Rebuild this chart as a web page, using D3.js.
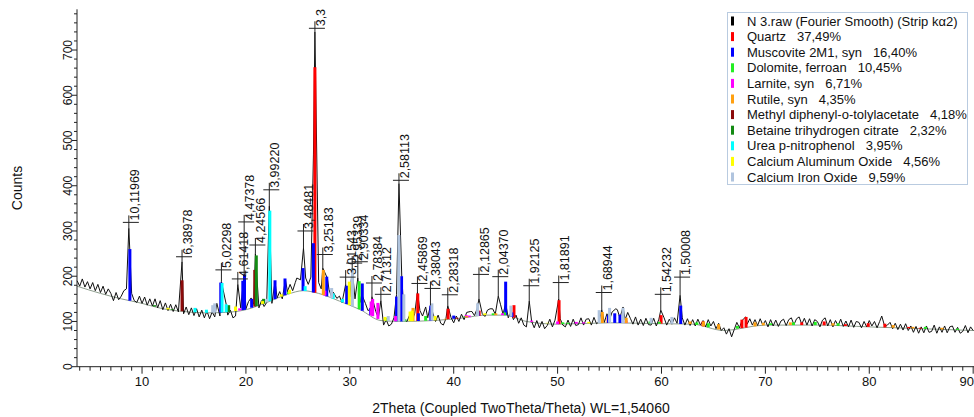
<!DOCTYPE html>
<html>
<head>
<meta charset="utf-8">
<script src="https://cdn.jsdelivr.net/npm/d3@7"></script>
<style>
  body { margin: 0; background: #fff; }
  svg { display: block; font-family: "Liberation Sans", Arial, sans-serif; }
</style>
</head>
<body>
<svg id="chart" width="974" height="417"></svg>
<script>
// measured scan, 2theta from 3.75 in steps of 0.25
const scanStart = 3.75;
const scanStep = 0.25;
const scanCounts = [190,
  178,194,176,188, 172,186,168,182, 164,178,160,172, 162,146,164,148, 156,168,172,172,
  162,146,142,156, 140,154,136,150, 134,150,130,146, 126,141,124,138, 122,137,121,134,
  117,132,115,130, 113,128,110,125, 108,123,106,121, 110,126,112,129, 130,114,125,108,
  112,124,130,120, 128,144,132,138, 145,130,146,133, 142,156,140,157, 152,166,150,170,
  166,182,168,186, 176,192,178,196, 182,198,180,194, 186,172,188,166, 170,154,168,151,
  156,142,158,145, 154,138,150,136, 142,126,140,124, 128,116,122,108, 108,92,104,90,
  94,108,112,118, 130,104,100,114, 102,118,106,124, 112,128,108,131, 118,100,114,96,
  92,106,90,108, 97,112,100,116, 104,120,106,122, 113,128,130,117, 111,125,109,128,
  116,132,138,116, 128,108,120,104, 114,96,108,92, 88,82,100,86, 102,86,100,84,
  91,105,88,103, 90,106,92,88, 103,89,105,91, 93,108,92,105, 106,92,109,95,
  100,114,98,117, 104,121,106,126, 108,130,104,120, 107,94,110,92, 105,91,107,93,
  92,107,90,105, 94,108,92,105, 94,108,96,114, 108,92,106,91, 104,90,105,92,
  102,88,104,90, 100,84,96,80, 86,72,84,66, 82,98,86,102, 106,94,106,92,
  104,91,106,92, 102,88,104,90, 103,89,101,105, 91,104,108,93, 106,110,94,107,
  92,106,90,104, 100,88,103,108, 90,104,88,102, 91,105,89,101, 88,103,87,100,
  98,86,100,88, 102,90,100,86, 100,110,88,92, 98,84,96,82, 94,81,95,80,
  90,76,89,74, 88,75,90,76, 78,92,74,88, 76,90,75,88, 90,76,87,74,
  78,91,75,88, 80];

// labelled peaks
const peakPos   = [8.73, 13.85, 17.64, 19.22, 19.83, 20.91, 22.25, 25.54, 26.64, 27.40, 29.60, 30.23, 30.77,
                   32.13, 32.99, 34.73, 36.51, 37.76, 39.43, 42.43, 44.29, 47.27, 50.11, 54.25, 59.93, 61.79];
const peakTop   = [306, 232, 188, 182, 205, 250, 355, 262, 740, 218, 182, 216, 196,
                   155, 146, 405, 165, 136, 135, 150, 156, 145, 150, 126, 125, 158];
const labelLevel = [319, 243, 214, 194, 320, 269, 391, 300, 748, 248, 198, 229, 232,
                   185, 160, 412, 184, 173, 159, 204, 199, 179, 186, 164, 160, 198];
const peakText  = ['10,11969', '6,38978', '5,02298', '4,61418', '4,47378', '4,24566', '3,99220', '3,48481', '3,3',
                   '3,25183', '3,01543', '2,95339', '2,90334', '2,78384', '2,71312', '2,58113', '2,45869', '2,38043',
                   '2,28318', '2,12865', '2,04370', '1,92125', '1,81891', '1,68944', '1,54232', '1,50008'];

// unlabelled small reflections in the scan
const minorPeaks = [[17.2, 140], [18.1, 138], [20.5, 152], [22.8, 188], [23.8, 192], [24.9, 196], [26.5, 470],
                    [27.85, 195], [28.4, 165], [31.15, 160], [34.5, 160], [35.0, 200], [37.3, 132], [41.6, 122],
                    [43.5, 128], [45.0, 140], [55.6, 128], [56.3, 132], [68.1, 110], [81.2, 112]];

// fitted background
const bgPos    = [3.74, 6, 8, 10, 12, 14, 16, 18, 20, 22, 24, 25.5, 27, 29, 31, 33, 35, 38, 41, 43, 45, 47, 50, 55, 60, 63, 66, 70, 75, 80, 85, 90.08];
const bgCounts = [178, 162, 150, 140, 128, 122, 119, 120, 126, 142, 160, 168, 162, 145, 126, 102, 100, 102, 108, 114, 114, 100, 94, 97, 95, 94, 80, 92, 92, 88, 84, 80];

// phases
const scanName = 'N 3.raw (Fourier Smooth) (Strip k\u03b12)';
const phaseNames = ['Quartz', 'Muscovite 2M1, syn', 'Dolomite, ferroan', 'Larnite, syn', 'Rutile, syn',
                    'Methyl diphenyl-o-tolylacetate', 'Betaine trihydrogen citrate', 'Urea p-nitrophenol',
                    'Calcium Aluminum Oxide', 'Calcium Iron Oxide'];
const phasePct = ['37,49%', '16,40%', '10,45%', '6,71%', '4,35%', '4,18%', '2,32%', '3,95%', '4,56%', '9,59%'];
const phaseColors = ['#ff0000', '#0000ff', '#22ee22', '#ff00ff', '#ffa010', '#8b0a0a', '#138a13', '#00ffff', '#ffff00', '#b0c4de'];

const quartzSticks = [[26.64, 662], [36.54, 162], [39.46, 128], [40.3, 108], [42.45, 124], [45.8, 136], [50.14, 147],
                      [54.87, 108], [59.96, 114], [64.0, 100], [67.74, 104], [68.14, 110], [73.5, 98], [75.66, 100],
                      [77.7, 94], [79.9, 96], [81.5, 95], [83.8, 88], [84.9, 86]];
const muscoviteSticks = [[8.83, 260], [17.58, 186], [19.7, 190], [19.86, 203], [20.55, 150], [22.8, 191], [23.76, 195],
                         [25.5, 218], [26.49, 273], [27.78, 199], [29.7, 179], [31.2, 184], [32.0, 130], [34.5, 155],
                         [34.98, 200], [36.6, 118], [37.8, 135], [40.0, 113], [42.34, 122], [45.0, 188], [45.6, 120],
                         [54.9, 114], [55.5, 118], [56.0, 115], [61.85, 135]];
const dolomiteSticks = [[24.1, 165], [30.9, 189], [33.5, 108], [35.3, 105], [37.3, 112], [41.1, 112], [43.8, 118],
                        [44.9, 120], [50.5, 98], [51.0, 97], [58.9, 100], [59.8, 99], [63.4, 98], [64.5, 96],
                        [67.3, 90], [70.5, 96], [72.7, 98], [74.8, 99], [77.0, 96], [85.4, 88], [88.5, 84]];
const larniteSticks = [[19.4, 129], [27.6, 168], [32.05, 144], [32.2, 150], [32.7, 141], [34.4, 112], [41.2, 114],
                       [41.5, 113], [44.7, 118], [47.5, 102], [50.0, 100], [51.8, 99], [52.5, 98], [56.6, 102]];
const rutileSticks = [[27.45, 214], [36.08, 130], [39.2, 106], [41.25, 112], [44.05, 118], [54.3, 121], [56.6, 108],
                      [62.75, 100], [64.04, 100], [65.5, 94], [69.0, 98], [69.8, 97], [72.4, 98], [76.5, 96],
                      [82.3, 92], [84.2, 88], [87.0, 86]];
const methylSticks = [[13.85, 191], [20.85, 214]];
const betaineSticks = [[11.2, 136], [18.34, 136], [21.0, 246], [21.7, 150], [12.9, 127]];
const ureaSticks = [[15.1, 130], [16.2, 126], [17.7, 185], [18.1, 138], [22.3, 345], [25.7, 178], [28.4, 162], [29.3, 150]];
const caAlSticks = [[12.5, 130], [19.0, 133], [21.6, 145], [23.4, 160], [24.2, 170], [29.95, 188], [33.4, 110],
                    [35.8, 122], [36.0, 124], [38.2, 112], [43.0, 118], [47.6, 99], [49.0, 97], [53.0, 99]];
const caFeSticks = [[16.8, 136], [17.0, 140], [22.0, 150], [28.25, 174], [30.25, 218], [33.7, 112], [34.72, 291],
                    [35.2, 160], [37.9, 140], [42.3, 140], [45.5, 135], [54.0, 125], [55.0, 130], [56.3, 130],
                    [59.0, 108], [61.0, 110]];
const phaseSticks = [quartzSticks, muscoviteSticks, dolomiteSticks, larniteSticks, rutileSticks,
                     methylSticks, betaineSticks, ureaSticks, caAlSticks, caFeSticks];

const svg = d3.select('#chart');
const x = d3.scaleLinear().domain([3.74, 90.08]).range([77, 974]);
const y = d3.scaleLinear().domain([0, 790]).range([366.7, 9.3]);
const bg = d3.scaleLinear().domain(bgPos).range(bgCounts);

// background line
svg.append('path')
    .datum(bgPos.map((p, i) => [p, bgCounts[i]]))
    .attr('fill', 'none')
    .attr('stroke', '#8e9e8e')
    .attr('stroke-width', 1)
    .attr('d', d3.line().curve(d3.curveMonotoneX).x(d => x(d[0])).y(d => y(d[1])));

// scan: measured points plus peak maxima
const spikes = peakPos.map((p, i) => [p, peakTop[i]]).concat(minorPeaks);
const scan = scanCounts.map((c, i) => [scanStart + i * scanStep, c])
    .filter(d => !spikes.some(s => Math.abs(s[0] - d[0]) < 0.12))
    .concat(spikes)
    .sort((a, b) => a[0] - b[0]);

svg.append('path')
    .datum(scan)
    .attr('fill', 'none')
    .attr('stroke', '#111')
    .attr('stroke-width', 1)
    .attr('stroke-linejoin', 'round')
    .attr('d', d3.line().x(d => x(d[0])).y(d => y(d[1])));

// phase sticks
phaseSticks.forEach((list, k) => {
    svg.append('g').selectAll('line')
        .data(list.filter(d => d[1] > bg(d[0])))
        .enter().append('line')
        .attr('x1', d => x(d[0])).attr('x2', d => x(d[0]))
        .attr('y1', d => y(bg(d[0]))).attr('y2', d => y(d[1]))
        .attr('stroke', phaseColors[k])
        .attr('stroke-width', 3);
});

// d-value labels
const lab = svg.append('g');
peakPos.forEach((p, i) => {
    const px = x(p), ly = y(labelLevel[i]);
    lab.append('line').attr('x1', px).attr('x2', px)
        .attr('y1', y(peakTop[i])).attr('y2', ly - 7)
        .attr('stroke', '#222').attr('stroke-width', 1);
    lab.append('line').attr('x1', px - 6).attr('x2', px + 10)
        .attr('y1', ly).attr('y2', ly)
        .attr('stroke', '#222').attr('stroke-width', 1);
    lab.append('text')
        .attr('transform', 'translate(' + (px + 10) + ',' + (ly - 2) + ') rotate(-90)')
        .attr('font-size', '12.5px')
        .attr('fill', '#111')
        .text(peakText[i]);
});

// axes
const xAxis = svg.append('g').attr('transform', 'translate(0,366.7)');
xAxis.append('line').attr('x1', 77).attr('x2', 974).attr('stroke', '#222');
xAxis.selectAll('.minor').data(d3.range(4, 91, 1)).enter().append('line')
    .attr('x1', d => x(d)).attr('x2', d => x(d)).attr('y1', 0)
    .attr('y2', d => d % 10 === 0 ? 7 : 4)
    .attr('stroke', '#222');
xAxis.selectAll('text').data(d3.range(10, 91, 10)).enter().append('text')
    .attr('x', d => d === 90 ? 974 : x(d))
    .attr('y', 19)
    .attr('text-anchor', d => d === 90 ? 'end' : 'middle')
    .attr('font-size', '13px')
    .attr('fill', '#111')
    .text(d => d);

const yAxis = svg.append('g').attr('transform', 'translate(77,0)');
yAxis.append('line').attr('y1', y(0)).attr('y2', y(790)).attr('stroke', '#222');
yAxis.selectAll('.tick').data(d3.range(0, 790, 20)).enter().append('line')
    .attr('y1', d => y(d)).attr('y2', d => y(d))
    .attr('x1', 0).attr('x2', d => d % 100 === 0 ? -5 : -3)
    .attr('stroke', '#222');
yAxis.selectAll('text').data(d3.range(0, 800, 100)).enter().append('text')
    .attr('transform', d => 'translate(-5,' + y(d) + ') rotate(-90)')
    .attr('text-anchor', 'middle')
    .attr('font-size', '12px')
    .attr('fill', '#111')
    .text(d => d);

svg.append('text')
    .attr('transform', 'translate(22,188) rotate(-90)')
    .attr('text-anchor', 'middle')
    .attr('font-size', '14px')
    .attr('fill', '#111')
    .text('Counts');

svg.append('text')
    .attr('x', 521).attr('y', 413)
    .attr('text-anchor', 'middle')
    .attr('font-size', '14px')
    .attr('fill', '#111')
    .text('2Theta (Coupled TwoTheta/Theta) WL=1,54060');

// legend
const legend = svg.append('g');
legend.append('rect')
    .attr('x', 727.5).attr('y', 12.5).attr('width', 240).attr('height', 172)
    .attr('fill', '#fff').attr('stroke', '#b9cbe0');
const rows = [[scanName, '', '#000']].concat(phaseNames.map((n, i) => [n, phasePct[i], phaseColors[i]]));
rows.forEach((r, i) => {
    const cy = 21 + i * 15.6;
    legend.append('rect').attr('x', 731).attr('y', cy - 4.5).attr('width', 3).attr('height', 9).attr('fill', r[2]);
    const t = legend.append('text').attr('x', 747).attr('y', cy + 4.5)
        .attr('font-size', '13px').attr('fill', '#111').text(r[0]);
    if (r[1]) t.append('tspan').attr('dx', 11).text(r[1]);
});
</script>
</body>
</html>
